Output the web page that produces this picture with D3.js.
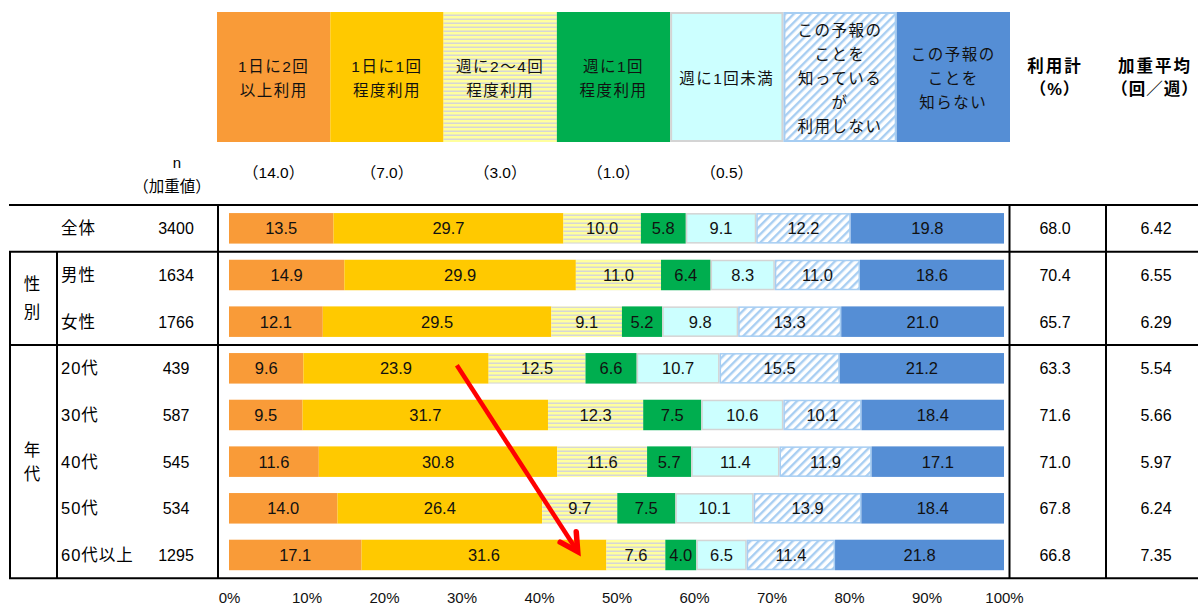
<!DOCTYPE html>
<html>
<head>
<meta charset="utf-8">
<script src="https://cdn.jsdelivr.net/npm/d3@7"></script>
<style>
  body { margin: 0; background: #fff; }
  svg { display: block; font-family: "Liberation Sans", "Noto Sans CJK JP", sans-serif; }
</style>
</head>
<body>
<svg id="chart" width="1198" height="606"></svg>
<script>
// rows of the table
var rows = ["全体", "男性", "女性", "20代", "30代", "40代", "50代", "60代以上"];
var nValues = [3400, 1634, 1766, 439, 587, 545, 534, 1295];
var usageTotal = [68.0, 70.4, 65.7, 63.3, 71.6, 71.0, 67.8, 66.8];
var weightedAvg = [6.42, 6.55, 6.29, 5.54, 5.66, 5.97, 6.24, 7.35];

// series (%), one per answer
var daily2 = [13.5, 14.9, 12.1, 9.6, 9.5, 11.6, 14.0, 17.1];
var daily1 = [29.7, 29.9, 29.5, 23.9, 31.7, 30.8, 26.4, 31.6];
var weekly24 = [10.0, 11.0, 9.1, 12.5, 12.3, 11.6, 9.7, 7.6];
var weekly1 = [5.8, 6.4, 5.2, 6.6, 7.5, 5.7, 7.5, 4.0];
var lessWeekly = [9.1, 8.3, 9.8, 10.7, 10.6, 11.4, 10.1, 6.5];
var knowNoUse = [12.2, 11.0, 13.3, 15.5, 10.1, 11.9, 13.9, 11.4];
var unknown = [19.8, 18.6, 21.0, 21.2, 18.4, 17.1, 18.4, 21.8];

var keys = ["daily2", "daily1", "weekly24", "weekly1", "lessWeekly", "knowNoUse", "unknown"];
var legendLines = [
  ["1日に2回", "以上利用"],
  ["1日に1回", "程度利用"],
  ["週に2～4回", "程度利用"],
  ["週に1回", "程度利用"],
  ["週に1回未満"],
  ["この予報の", "ことを", "知っている", "が", "利用しない"],
  ["この予報の", "ことを", "知らない"]
];
var weights = ["（14.0）", "（7.0）", "（3.0）", "（1.0）", "（0.5）"];
var groups = [
  { label: "性別", first: "男性", last: "女性", step: 28 },
  { label: "年代", first: "20代", last: "60代以上", step: 24 }
];

var fills = {
  daily2: "#F99B38", daily1: "#FFC900", weekly24: "url(#hstripe)", weekly1: "#00AE4F",
  lessWeekly: "#CCFFFF", knowNoUse: "url(#diag)", unknown: "#558ED5"
};
var strokes = { lessWeekly: "#D4D4D4", knowNoUse: "#A6CDF2" };

var table = rows.map(function (r, i) {
  return {
    row: r, daily2: daily2[i], daily1: daily1[i], weekly24: weekly24[i], weekly1: weekly1[i],
    lessWeekly: lessWeekly[i], knowNoUse: knowNoUse[i], unknown: unknown[i]
  };
});

var svg = d3.select("#chart");

// patterns
var defs = svg.append("defs");
var hp = defs.append("pattern").attr("id", "hstripe").attr("patternUnits", "userSpaceOnUse")
  .attr("width", 8).attr("height", 4);
hp.append("rect").attr("width", 8).attr("height", 4).attr("fill", "#FFFF9E");
hp.append("rect").attr("y", 2.5).attr("width", 8).attr("height", 1.5).attr("fill", "#D6D6D6");

var dp = defs.append("pattern").attr("id", "diag").attr("patternUnits", "userSpaceOnUse")
  .attr("width", 6).attr("height", 6).attr("patternTransform", "rotate(45)");
dp.append("rect").attr("width", 6).attr("height", 6).attr("fill", "#ffffff");
dp.append("rect").attr("width", 2.4).attr("height", 6).attr("fill", "#A8CEF2");

// scales
var x = d3.scaleLinear().domain([0, 1]).range([229, 1004]);
var y = d3.scaleBand().domain(rows).range([205, 578.3]).paddingInner(0.346).paddingOuter(0.173);
var step = y.step();
function rowTop(r) { return y(r) - y.paddingOuter() * step; }

var stack = d3.stack().keys(keys).offset(d3.stackOffsetExpand);
var series = stack(table);

// legend header
var lx = d3.scaleBand().domain(keys).range([217, 1010]);
var leg = svg.append("g").selectAll("g").data(keys).enter().append("g");
leg.append("rect")
  .attr("x", function (k) { return lx(k) + (strokes[k] ? 1 : 0); })
  .attr("y", function (k) { return 12 + (strokes[k] ? 1 : 0); })
  .attr("width", function (k) { return lx.bandwidth() - (strokes[k] ? 2 : 0); })
  .attr("height", function (k) { return 130 - (strokes[k] ? 2 : 0); })
  .attr("fill", function (k) { return fills[k]; })
  .attr("stroke", function (k) { return strokes[k] || "none"; })
  .attr("stroke-width", 2);
leg.each(function (k, i) {
  var lines = legendLines[i];
  var t = d3.select(this).append("text")
    .attr("text-anchor", "middle")
    .attr("font-size", 15.5)
    .attr("letter-spacing", 1.5)
    .attr("fill", "#111");
  lines.forEach(function (l, j) {
    t.append("tspan")
      .attr("x", lx(k) + lx.bandwidth() / 2)
      .attr("y", 78 + (j - (lines.length - 1) / 2) * 24 + 6)
      .text(l);
  });
  if (weights[i]) {
    d3.select(this).append("text")
      .attr("x", lx(k) + lx.bandwidth() / 2)
      .attr("y", 178)
      .attr("text-anchor", "middle")
      .attr("font-size", 15.5)
      .text(weights[i]);
  }
});

// n header
svg.append("text").attr("x", 177).attr("y", 168).attr("text-anchor", "middle").attr("font-size", 15).text("n");
svg.append("text").attr("x", 172).attr("y", 192).attr("text-anchor", "middle").attr("font-size", 15.5).text("（加重値）");

// right headers
var hdr = [["利用計", "（%）", 1055], ["加重平均", "（回／週）", 1155]];
hdr.forEach(function (h) {
  svg.append("text").attr("x", h[2]).attr("y", 72).attr("text-anchor", "middle")
    .attr("font-size", 16.5).attr("font-weight", "bold").attr("letter-spacing", 2).text(h[0]);
  svg.append("text").attr("x", h[2]).attr("y", 95).attr("text-anchor", "middle")
    .attr("font-size", 16.5).attr("font-weight", "bold").attr("letter-spacing", 1).text(h[1]);
});

// bars
var layer = svg.append("g").selectAll("g").data(series).enter().append("g");
layer.selectAll("rect").data(function (s) { return s.map(function (d) { d.key = s.key; return d; }); })
  .enter().append("rect")
  .attr("x", function (d) { return x(d[0]) + (strokes[d.key] ? 0.75 : 0); })
  .attr("y", function (d) { return y(d.data.row) + (strokes[d.key] ? 0.75 : 0); })
  .attr("width", function (d) { return x(d[1]) - x(d[0]) - (strokes[d.key] ? 1.5 : 0); })
  .attr("height", function (d) { return y.bandwidth() - (strokes[d.key] ? 1.5 : 0); })
  .attr("fill", function (d) { return fills[d.key]; })
  .attr("stroke", function (d) { return strokes[d.key] || "none"; })
  .attr("stroke-width", 1.5);

layer.selectAll("text").data(function (s) { return s; })
  .enter().append("text")
  .attr("x", function (d) { return (x(d[0]) + x(d[1])) / 2; })
  .attr("y", function (d) { return y(d.data.row) + y.bandwidth() / 2 + 6; })
  .attr("text-anchor", "middle")
  .attr("font-size", 16.5)
  .attr("fill", "#111")
  .text(function (d) { return d.data[d.key].toFixed(1); });

// row labels and numbers
var rl = svg.append("g").selectAll("g").data(rows).enter().append("g");
rl.append("text").attr("x", 61).attr("y", function (r) { return y(r) + y.bandwidth() / 2 + 6; })
  .attr("font-size", 16.5).attr("letter-spacing", 1).text(function (r) { return r; });
rl.append("text").attr("x", 176).attr("y", function (r) { return y(r) + y.bandwidth() / 2 + 6; })
  .attr("text-anchor", "middle").attr("font-size", 16).text(function (r, i) { return nValues[i]; });
rl.append("text").attr("x", 1055).attr("y", function (r) { return y(r) + y.bandwidth() / 2 + 6; })
  .attr("text-anchor", "middle").attr("font-size", 16).text(function (r, i) { return usageTotal[i].toFixed(1); });
rl.append("text").attr("x", 1156).attr("y", function (r) { return y(r) + y.bandwidth() / 2 + 6; })
  .attr("text-anchor", "middle").attr("font-size", 16).text(function (r, i) { return weightedAvg[i].toFixed(2); });

// group labels (vertical)
groups.forEach(function (g) {
  var top = rowTop(g.first), bot = rowTop(g.last) + step;
  var mid = (top + bot) / 2;
  var chars = g.label.split("");
  chars.forEach(function (c, j) {
    svg.append("text").attr("x", 32).attr("y", mid + (j - (chars.length - 1) / 2) * g.step + 6)
      .attr("text-anchor", "middle").attr("font-size", 16.5).text(c);
  });
});

// table lines
var lines = svg.append("g").attr("stroke", "#000").attr("stroke-width", 2);
var tableTop = rowTop(rows[0]), tableBot = rowTop(rows[rows.length - 1]) + step;
var hLines = [tableTop, rowTop("男性"), rowTop("20代"), tableBot];
hLines.forEach(function (v) {
  lines.append("line").attr("x1", 9).attr("x2", 1198).attr("y1", v).attr("y2", v);
});
[10, 57].forEach(function (v) {
  lines.append("line").attr("x1", v).attr("x2", v).attr("y1", rowTop("男性")).attr("y2", tableBot);
});
[218, 1009.5, 1106].forEach(function (v) {
  lines.append("line").attr("x1", v).attr("x2", v).attr("y1", tableTop).attr("y2", tableBot);
});

// axis
var axis = svg.append("g").attr("transform", "translate(0,589)")
  .call(d3.axisBottom(x).ticks(10).tickFormat(d3.format(".0%")).tickSize(0).tickPadding(3));
axis.select(".domain").remove();
axis.selectAll("text").attr("font-size", 15).attr("fill", "#111")
  .attr("font-family", "'Liberation Sans', 'Noto Sans CJK JP', sans-serif");

// red arrow annotation
var ax1 = x(0.294), ay1 = y("20代") + y.bandwidth() / 2 - 3;
var ax2 = x(0.45), ay2 = y("60代以上") + 12;
var ang = Math.atan2(ay2 - ay1, ax2 - ax1);
var head = 20, spread = 0.5;
svg.append("line").attr("x1", ax1).attr("y1", ay1).attr("x2", ax2 - 3 * Math.cos(ang)).attr("y2", ay2 - 3 * Math.sin(ang))
  .attr("stroke", "#FF0000").attr("stroke-width", 4.5);
svg.append("path")
  .attr("d", d3.line()([
    [ax2 - head * Math.cos(ang - spread), ay2 - head * Math.sin(ang - spread)],
    [ax2, ay2],
    [ax2 - head * Math.cos(ang + spread), ay2 - head * Math.sin(ang + spread)]
  ]))
  .attr("fill", "none").attr("stroke", "#FF0000").attr("stroke-width", 5.5)
  .attr("stroke-linejoin", "miter").attr("stroke-linecap", "round");
</script>
</body>
</html>
